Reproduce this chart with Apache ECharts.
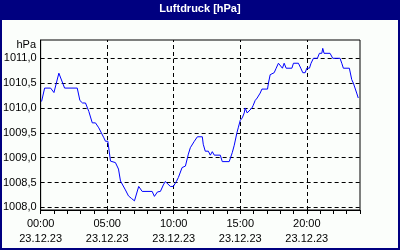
<!DOCTYPE html>
<html><head><meta charset="utf-8">
<script src="https://cdn.jsdelivr.net/npm/echarts@6/dist/echarts.min.js"></script>
<style>html,body{margin:0;padding:0;background:#fff}#c{width:400px;height:250px}</style>
</head><body><div id="c"></div>
<script>
const hours = [0.07,0.3,0.75,1.0,1.37,1.8,2.75,2.95,3.15,3.37,3.62,3.88,4.12,4.37,4.75,4.87,5.05,5.25,5.62,5.85,6.0,6.37,6.6,6.82,7.05,7.37,7.63,8.38,8.55,8.78,9.0,9.22,9.37,9.52,9.75,9.97,10.2,10.35,10.63,10.88,11.1,11.25,11.4,11.55,11.78,12.15,12.22,12.37,12.6,12.75,12.9,13.05,13.5,13.65,14.17,14.4,14.55,14.75,14.85,15.0,15.15,15.3,15.37,15.52,15.67,15.88,15.97,16.12,16.27,16.5,16.63,17.05,17.12,17.25,17.37,17.55,17.7,17.87,18.0,18.17,18.3,18.45,18.88,19.0,19.37,19.55,19.7,19.88,20.0,20.2,20.32,20.5,20.8,20.95,21.13,21.2,21.3,21.75,21.95,22.5,22.63,22.75,23.2,23.38,23.5,23.75,23.87];
const pressure = [1010.13,1010.4,1010.4,1010.31,1010.7,1010.4,1010.4,1010.15,1010.1,1010.1,1009.93,1009.7,1009.7,1009.6,1009.4,1009.33,1009.33,1008.93,1008.9,1008.77,1008.53,1008.35,1008.23,1008.18,1008.13,1008.42,1008.32,1008.32,1008.22,1008.31,1008.32,1008.45,1008.52,1008.52,1008.42,1008.42,1008.52,1008.6,1008.8,1008.83,1009.07,1009.2,1009.23,1009.33,1009.42,1009.42,1009.27,1009.13,1009.13,1009.05,1009.12,1009.05,1009.05,1008.92,1008.92,1009.1,1009.25,1009.5,1009.6,1009.75,1009.8,1009.9,1010.0,1009.9,1009.9,1010.0,1010.05,1010.15,1010.2,1010.3,1010.38,1010.38,1010.5,1010.67,1010.7,1010.71,1010.8,1010.9,1010.9,1010.8,1010.9,1010.8,1010.8,1010.9,1010.9,1010.8,1010.71,1010.71,1010.8,1010.8,1010.9,1011.0,1011.0,1011.1,1011.1,1011.2,1011.1,1011.1,1011.0,1011.0,1010.9,1010.8,1010.8,1010.57,1010.5,1010.3,1010.2];
const yTicks = [1008.0,1008.5,1009.0,1009.5,1010.0,1010.5,1011.0];
const xLabelHours = [0,5,10,15,20];
const xGridHours = [5,10,15,20];
const hourTicks = [0,1,2,3,4,5,6,7,8,9,10,11,12,13,14,15,16,17,18,19,20,21,22,23,24];
const dateLabel = '23.12.23';
const titleText = 'Luftdruck [hPa]';
const unitText = 'hPa';

const FONT = '"Liberation Sans Narrow","Liberation Sans",Arial,sans-serif';
const chart = echarts.init(document.getElementById('c'), null, {renderer:'canvas'});
const gridLine = {color:'#000', type:[4,3], width:1};
chart.setOption({
  animation:false,
  backgroundColor:'#fbfefb',
  graphic:[
    {type:'rect', shape:{x:0,y:0,width:400,height:20}, style:{fill:'#000080'}, z:-1},
    {type:'rect', shape:{x:1,y:1,width:398,height:248}, style:{fill:null, stroke:'#000080', lineWidth:2}, z:-1},
    {type:'text', x:36, y:45, style:{text:unitText, fill:'#000', font:'11px '+FONT, align:'right', verticalAlign:'middle'}}
  ],
  title:{text:titleText, left:'center', top:3, padding:0,
    textStyle:{color:'#fff', fontWeight:'bold', fontSize:11, fontFamily:'"Liberation Sans",Arial,sans-serif'}},
  grid:{left:40, right:40, top:40, bottom:40, show:true, borderColor:'#000', borderWidth:1, backgroundColor:'transparent'},
  xAxis:{type:'value', min:0, max:24, interval:1,
    axisLine:{show:true, lineStyle:{color:'#000', width:1}},
    axisTick:{show:true, length:4, customValues:hourTicks, lineStyle:{color:'#000'}},
    splitLine:{show:false},
    axisLabel:{customValues:xLabelHours, color:'#000', fontSize:11, fontFamily:FONT, margin:6, lineHeight:15,
      formatter:v => String(v).padStart(2,'0')+':00\n'+dateLabel}},
  yAxis:{type:'value', min:1007.946, max:1011.368,
    axisLine:{show:true, lineStyle:{color:'#000', width:1}},
    axisTick:{show:false},
    splitLine:{show:false},
    axisLabel:{customValues:yTicks, color:'#000', fontSize:11, fontFamily:FONT, margin:4,
      formatter:v => v.toFixed(1).replace('.', ',')}},
  series:[{
    type:'line', showSymbol:false, symbol:'none',
    data:hours.map((h,i)=>[h, pressure[i]]),
    lineStyle:{color:'#0000ff', width:1},
    z:3,
    markLine:{silent:true, symbol:['none','none'], label:{show:false}, lineStyle:gridLine, z:1,
      data:[...yTicks.map(v=>({yAxis:v})), ...xGridHours.map(v=>({xAxis:v}))]}
  }]
});
</script></body></html>
